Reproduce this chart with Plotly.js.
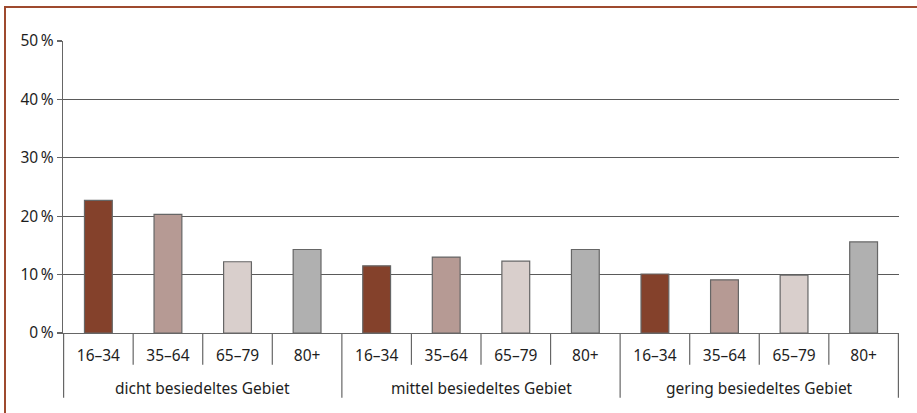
<!DOCTYPE html>
<html>
<head>
<meta charset="utf-8">
<script src="https://cdn.plot.ly/plotly-3.0.1.min.js"></script>
<style>
html,body{margin:0;padding:0;background:#fff;}
#wrap{position:relative;width:917px;height:413px;overflow:hidden;}
#frame{position:absolute;left:4px;top:6px;width:930px;height:420px;border-top:2px solid #9e4a2e;border-left:2px solid #9e4a2e;box-sizing:border-box;pointer-events:none;z-index:5;}
#chart{position:absolute;left:0;top:0;width:917px;height:413px;}
</style>
</head>
<body>
<div id="wrap"><div id="chart"></div><div id="frame"></div></div>
<script>
const regions = ["dicht besiedeltes Gebiet", "mittel besiedeltes Gebiet", "gering besiedeltes Gebiet"];
const ageGroups = ["16–34", "35–64", "65–79", "80+"];
const values = [
  [22.7, 20.3, 12.2, 14.3],
  [11.5, 13.0, 12.3, 14.3],
  [10.1, 9.1, 9.9, 15.6]
];
const ageColors = ["#84412b", "#b69a94", "#d9cfcc", "#b0b0b0"];
const yTicks = [0, 10, 20, 30, 40, 50];

const FONT = "Noto Sans, sans-serif";
const TXT = "#1e1e1e";
const LINE = "#666";

const cats = [], labels = [], y = [], colors = [];
regions.forEach((r, i) => {
  ageGroups.forEach((a, j) => {
    cats.push(r + " · " + a); labels.push(a); y.push(values[i][j]); colors.push(ageColors[j]);
  });
});

const trace = {
  type: "bar",
  x: cats,
  y: y,
  marker: {color: colors, line: {color: LINE, width: 1.2}},
  hoverinfo: "skip"
};

const nG = ageGroups.length;
const shapes = [];
const annotations = [];
// boundary ticks between age groups and group dividers
for (let k = 0; k <= cats.length; k++) {
  const xb = k - 0.5;
  const isDivider = (k % nG === 0);
  shapes.push({
    type: "line", xref: "x", yref: "paper",
    x0: xb, x1: xb, y0: 0, y1: isDivider ? -0.222 : -0.109,
    line: {color: LINE, width: 1.2}, layer: "above"
  });
}
regions.forEach((r, i) => {
  annotations.push({
    xref: "x", yref: "paper", x: i * nG + (nG - 1) / 2, y: -0.187,
    text: r, showarrow: false, yanchor: "middle", xanchor: "center",
    font: {family: FONT, size: 15.5, color: TXT}
  });
});

const layout = {
  width: 917, height: 413,
  margin: {l: 63, r: 18, t: 41, b: 80},
  paper_bgcolor: "#fff", plot_bgcolor: "#fff",
  font: {family: FONT, size: 15, color: TXT},
  showlegend: false,
  bargap: 0.6,
  shapes: shapes,
  annotations: annotations,
  xaxis: {
    type: "category",
    tickmode: "array", tickvals: cats, ticktext: labels,
    showline: true, linecolor: LINE, linewidth: 1.2,
    ticks: "", ticklabelstandoff: 8,
    showgrid: false,
    tickfont: {family: FONT, size: 15.5, color: TXT}
  },
  yaxis: {
    range: [0, 50], tickvals: yTicks, ticktext: yTicks.map(v => v + "\u202f%"),
    showgrid: true, gridcolor: "#5a5a5a", gridwidth: 1.1,
    showline: true, linecolor: LINE, linewidth: 1.2,
    ticks: "outside", ticklen: 5, tickcolor: LINE, tickwidth: 1.2,
    zeroline: false,
    tickfont: {family: FONT, size: 15.5, color: TXT}
  }
};

Plotly.newPlot("chart", [trace], layout, {displayModeBar: false, staticPlot: true});
</script>
</body>
</html>
